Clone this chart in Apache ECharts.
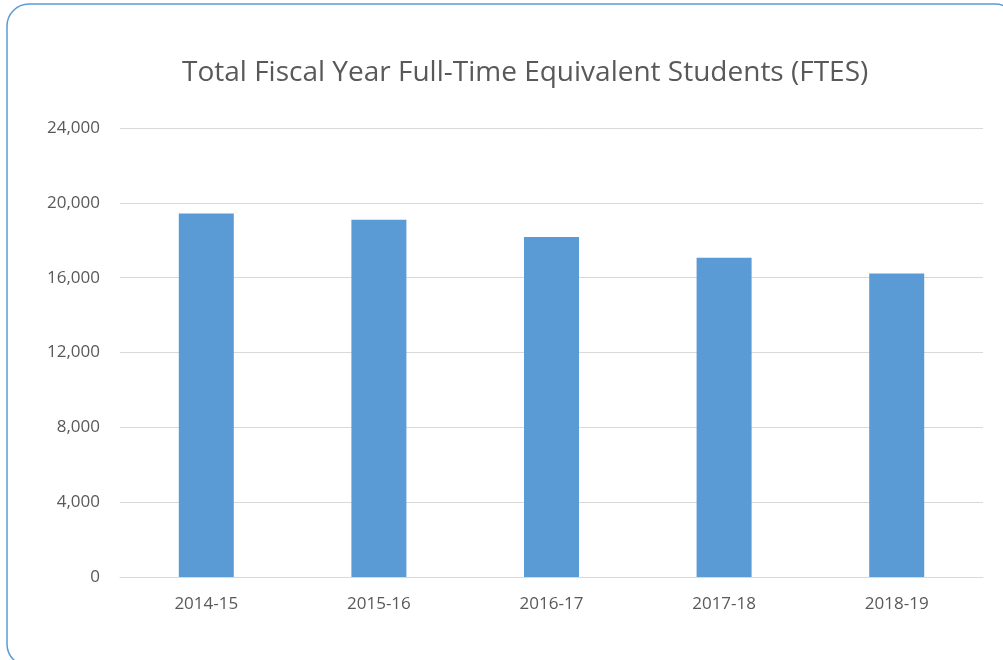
<!DOCTYPE html>
<html>
<head>
<meta charset="utf-8">
<script src="https://cdn.jsdelivr.net/npm/echarts@6/dist/echarts.min.js"></script>
<style>
    html, body { margin: 0; padding: 0; background: #ffffff; }
    #main { width: 1003px; height: 660px; }
</style>
</head>
<body>
<div id="main"></div>
<script>
// 数据
let years = ['2014-15', '2015-16', '2016-17', '2017-18', '2018-19'];
let ftes = [19430, 19090, 18170, 17060, 16220];
let yTicks = [0, 4000, 8000, 12000, 16000, 20000, 24000];

let textColor = '#595959';
let fontName = '"Open Sans", "Noto Sans", sans-serif';

let myChart = echarts.init(document.getElementById('main'));

let option = {
    animation: false,
    backgroundColor: '#ffffff',
    // 圆角边框
    graphic: [{
        type: 'rect',
        shape: { x: 7, y: 4, width: 1010, height: 662, r: 22 },
        style: { fill: 'none', stroke: '#5b9bd5', lineWidth: 1.5 },
        silent: true
    }],
    title: {
        text: 'Total Fiscal Year Full-Time Equivalent Students (FTES)',
        left: 177,
        top: 54,
        textStyle: {
            color: textColor,
            fontSize: 28,
            fontWeight: 'normal',
            fontFamily: fontName
        }
    },
    grid: {
        left: 120,
        right: 20,
        top: 128,
        bottom: 83,
        containLabel: false
    },
    xAxis: {
        type: 'category',
        data: years,
        axisLine: { lineStyle: { color: '#d9d9d9' } },
        axisTick: { show: false },
        axisLabel: {
            color: textColor,
            fontSize: 17,
            fontFamily: fontName,
            margin: 19
        }
    },
    yAxis: {
        type: 'value',
        min: yTicks[0],
        max: yTicks[yTicks.length - 1],
        interval: yTicks[1] - yTicks[0],
        axisLine: { show: false },
        axisTick: { show: false },
        splitLine: { lineStyle: { color: '#d9d9d9' } },
        axisLabel: {
            color: textColor,
            fontSize: 17,
            fontFamily: fontName,
            margin: 20,
            formatter: function (v) {
                return v.toLocaleString('en-US');
            }
        }
    },
    series: [{
        type: 'bar',
        data: ftes,
        barWidth: 55,
        itemStyle: { color: '#5b9bd5' }
    }]
};

myChart.setOption(option);
</script>
</body>
</html>
